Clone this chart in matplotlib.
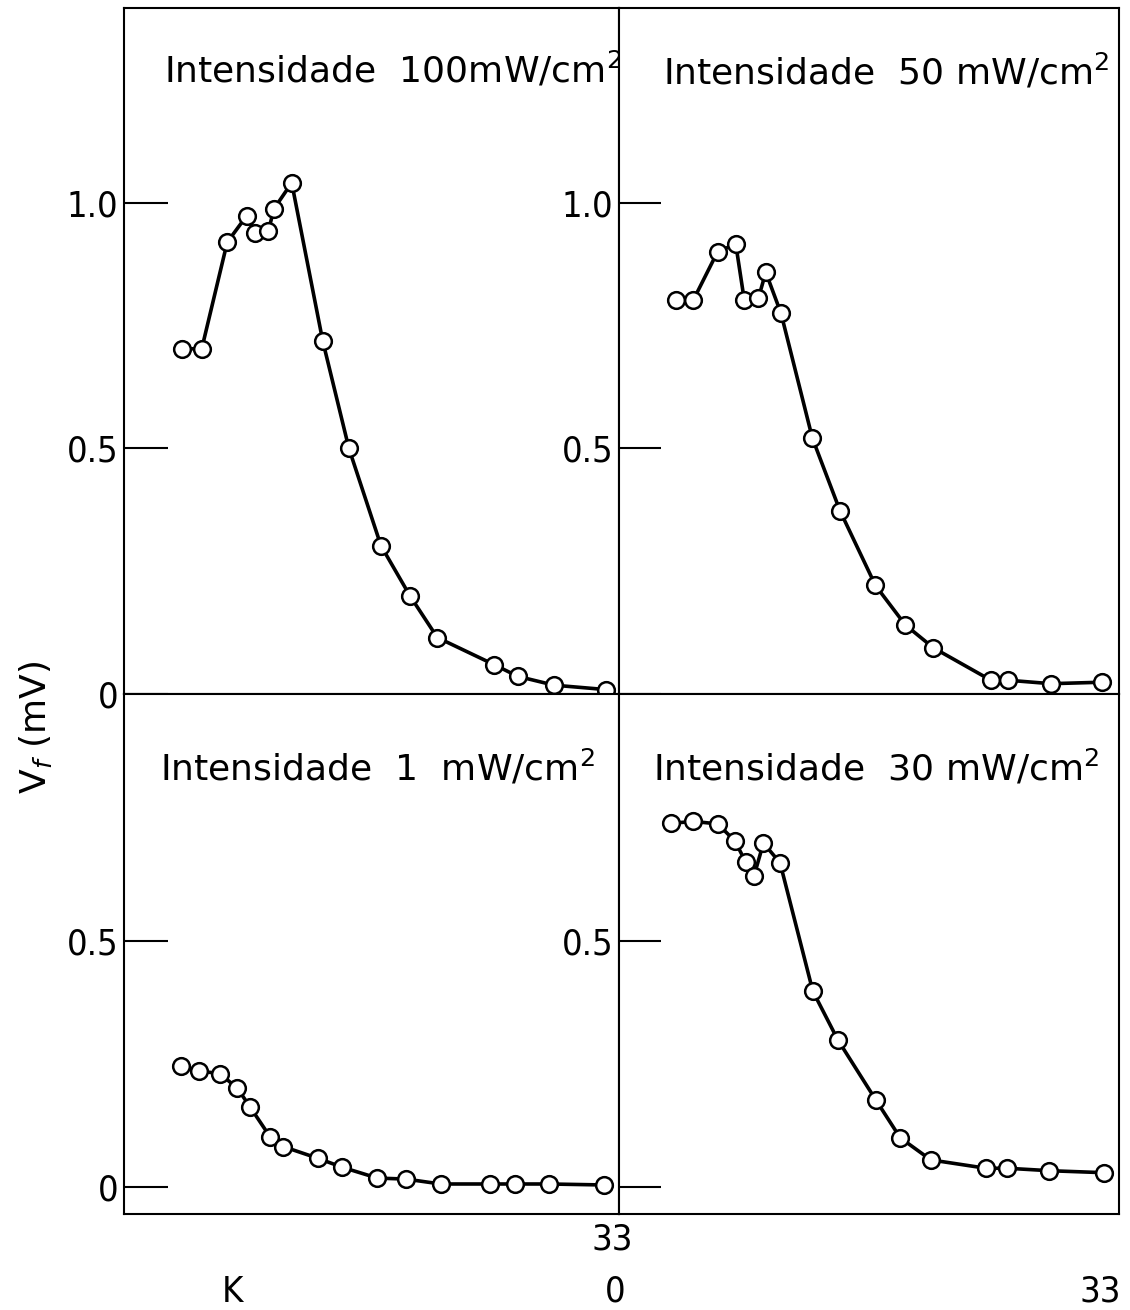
import numpy as np
import matplotlib.pyplot as plt

# Datos: K (eje x) y Vf en mV
k_100 = [3.96, 5.34, 7.09, 8.43, 9.0, 9.91, 10.3, 11.52, 13.65, 15.45, 17.65, 19.64, 21.52, 25.41, 27.04, 29.53, 33.1]
v_100 = [0.703, 0.703, 0.92, 0.974, 0.939, 0.942, 0.988, 1.041, 0.719, 0.50, 0.302, 0.20, 0.115, 0.06, 0.036, 0.018, 0.009]

k_50 = [3.88, 5.05, 6.71, 7.94, 8.52, 9.48, 9.98, 11.02, 13.15, 15.03, 17.44, 19.46, 21.38, 25.29, 26.48, 29.37, 32.84]
v_50 = [0.802, 0.802, 0.901, 0.916, 0.802, 0.806, 0.859, 0.775, 0.521, 0.373, 0.221, 0.141, 0.094, 0.028, 0.028, 0.021, 0.024]

k_1 = [3.89, 5.17, 6.59, 7.78, 8.65, 10.03, 10.94, 13.34, 14.99, 17.40, 19.37, 21.75, 25.14, 26.85, 29.19, 32.97]
v_1 = [0.245, 0.236, 0.230, 0.201, 0.163, 0.102, 0.082, 0.058, 0.040, 0.018, 0.016, 0.006, 0.006, 0.006, 0.006, 0.004]

k_30 = [3.52, 5.05, 6.71, 7.89, 8.62, 9.18, 9.82, 10.95, 13.18, 14.88, 17.46, 19.12, 21.2, 24.95, 26.41, 29.27, 32.95]
v_30 = [0.739, 0.743, 0.738, 0.703, 0.660, 0.632, 0.699, 0.659, 0.398, 0.299, 0.177, 0.100, 0.055, 0.038, 0.038, 0.033, 0.029]

titulos = ['Intensidade  100mW/cm$^2$', 'Intensidade  50 mW/cm$^2$',
           'Intensidade  1  mW/cm$^2$', 'Intensidade  30 mW/cm$^2$']

ticks_arriba = [0, 0.5, 1.0]
ticks_abajo = [0, 0.5]
etiquetas_x = ['33', 'K', '0', '33']

W, H = 1130, 1310
fig = plt.figure(figsize=(W / 100, H / 100), dpi=100)

def caja(x0, y0, x1, y1):
    # pixeles (origen arriba-izquierda) -> fraccion de figura
    return [x0 / W, 1 - y1 / H, (x1 - x0) / W, (y1 - y0) / H]

xl, xm, xr = 124, 619, 1119
yt, ym, yb = 8, 694, 1214

paneles = [
    (caja(xl, yt, xm, ym), k_100, v_100, titulos[0], (0, 1.397), ticks_arriba, ['0', '0.5', '1.0'], 32, (0.081, 0.91)),
    (caja(xm, yt, xr, ym), k_50, v_50, titulos[1], (0, 1.397), ticks_arriba, ['', '0.5', '1.0'], 30, (0.088, 0.907)),
    (caja(xl, ym, xm, yb), k_1, v_1, titulos[2], (-0.055, 1.002), ticks_abajo, ['0', '0.5'], 32, (0.073, 0.858)),
    (caja(xm, ym, xr, yb), k_30, v_30, titulos[3], (-0.055, 1.002), ticks_abajo, ['', '0.5'], 30, (0.068, 0.858)),
]

for rect, k, v, tit, ylim, yt_, ylab, largo, pos in paneles:
    ax = fig.add_axes(rect)
    ax.plot(k, v, color='black', lw=2.6, marker='o', ms=12, mfc='white',
            mec='black', mew=1.8, clip_on=False, zorder=3)
    ax.set_xlim(0, 34)
    ax.set_ylim(*ylim)
    ax.set_xticks([])
    ax.set_yticks(yt_)
    ax.set_yticklabels(ylab, fontsize=26, fontstretch='condensed')
    ax.tick_params(axis='y', direction='in', length=largo, width=1.5, pad=4)
    for s in ax.spines.values():
        s.set_linewidth(1.5)
    ax.text(pos[0], pos[1], tit, transform=ax.transAxes, fontsize=26,
            ha='left', va='center')

fig.text(36 / W, 1 - 727 / H, r'$\mathrm{V}_f$ (mV)', rotation=90, fontsize=26,
         ha='center', va='center')

pos_x = [(612, 1240), (232, 1292), (615, 1292), (1100, 1292)]
for (px, py), txt in zip(pos_x, etiquetas_x):
    fig.text(px / W, 1 - py / H, txt, fontsize=26, fontstretch='condensed',
             ha='center', va='center')

fig.savefig('out.png', dpi=100)
